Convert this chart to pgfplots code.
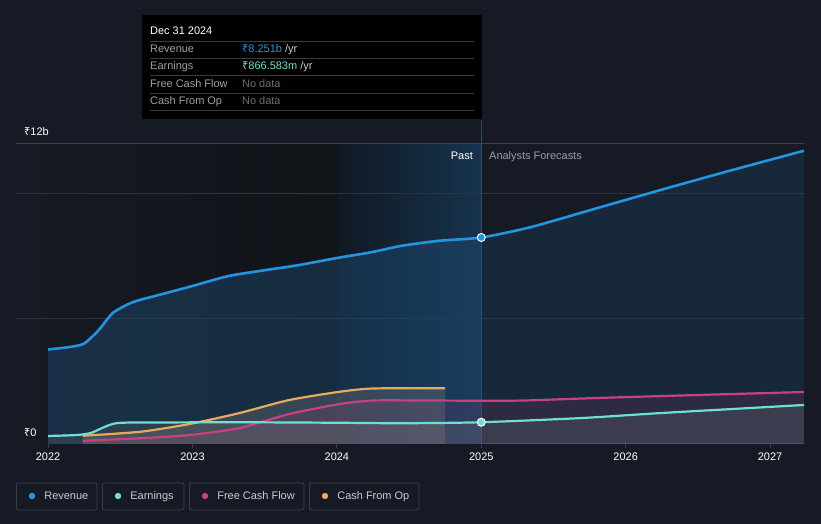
\documentclass[border=0pt]{standalone}
\usepackage{pgfplots}
\pgfplotsset{compat=1.18}
\usepackage{fontspec}
\setmainfont{Liberation Sans}
\newfontfamily\rupfont{Noto Sans}
\newcommand{\rs}{{\rupfont ₹}}

\definecolor{bg}{HTML}{151A24}
\definecolor{gridc}{HTML}{2E333D}
\definecolor{axisc}{HTML}{3A3F49}
\definecolor{revc}{HTML}{2394DF}
\definecolor{earnc}{HTML}{6EE0CF}
\definecolor{fcfc}{HTML}{C9417F}
\definecolor{cfoc}{HTML}{E8AA5A}
\definecolor{labc}{HTML}{9AA0A8}
\definecolor{dimc}{HTML}{6A6E76}
\definecolor{legc}{HTML}{C8CCD2}
\definecolor{leftr}{HTML}{111418}
\definecolor{pastl}{HTML}{101923}
\definecolor{pastr}{HTML}{17334E}
\definecolor{divc}{HTML}{2D4B69}
\definecolor{revfill}{HTML}{1E4B73}
\definecolor{sepc}{HTML}{3C3C3C}

\begin{document}
\begin{tikzpicture}[font=\fontsize{11}{13}\selectfont]
\begin{scope}[x=1bp,y=1bp]
\fill[bg] (0,0) rectangle (821,524);
\useasboundingbox (0,0) rectangle (821,524);
\end{scope}

\begin{axis}[
    at={(16bp,80bp)}, anchor=south west,
    scale only axis, width=788bp, height=300bp,
    xmin=2021.778, xmax=2027.235, ymin=0, ymax=12,
    clip=false,
    axis x line=bottom, axis y line=none,
    x axis line style={draw=axisc, line width=1bp, -},
    xtick={2022,2023,2024,2025,2026,2027},
    xticklabels={2022,2023,2024,2025,2026,2027},
    tick align=outside, major tick length=4bp,
    tick style={draw=axisc, line width=0.8bp},
    xticklabel style={text=white, font=\fontsize{11}{13}\selectfont, yshift=-1bp},
    /pgf/number format/assume math mode=true,
    ytick=\empty,
]
% background regions
\shade[left color=bg, right color=leftr, draw=none] (axis cs:2021.778,0) rectangle (axis cs:2024,12);
\shade[left color=pastl, right color=pastr, draw=none] (axis cs:2024,0) rectangle (axis cs:2025,12);

% grid lines
\draw[gridc, line width=1bp] (axis cs:2021.778,5) -- (axis cs:2027.235,5);
\draw[gridc, line width=1bp] (axis cs:2021.778,10) -- (axis cs:2027.235,10);
\draw[axisc, line width=1bp] (axis cs:2021.778,12) -- (axis cs:2027.235,12);

% divider
\draw[divc, line width=0.8bp] (axis cs:2025,0) -- (axis cs:2025,12.96);

% revenue fills
\addplot[draw=none, fill=revfill, fill opacity=0.45, smooth, tension=0.4] coordinates {
 (2022,3.78) (2022.15,3.88) (2022.25,4.02) (2022.35,4.55) (2022.45,5.25) (2022.59,5.68) (2022.78,5.98) (2023,6.32) (2023.25,6.72) (2023.5,6.95) (2023.74,7.16) (2024,7.44) (2024.23,7.66) (2024.45,7.93) (2024.71,8.13) (2025,8.26)
} \closedcycle;
\addplot[draw=none, fill=revfill, fill opacity=0.3, smooth, tension=0.4] coordinates {
 (2025,8.26) (2025.34,8.67) (2025.8,9.43) (2026.26,10.19) (2026.72,10.93) (2027.235,11.73)
} \closedcycle;

% small series fills
\addplot[draw=none, fill=gray, fill opacity=0.3, smooth, tension=0.4] coordinates {
 (2022.24,0.33) (2022.64,0.49) (2022.98,0.8) (2023.32,1.23) (2023.67,1.76) (2024.02,2.09) (2024.25,2.22) (2024.75,2.23)
} \closedcycle;
\addplot[draw=none, fill=fcfc, fill opacity=0.12, smooth, tension=0.4] coordinates {
 (2022.24,0.13) (2022.64,0.23) (2022.98,0.36) (2023.32,0.63) (2023.67,1.2) (2024.02,1.6) (2024.25,1.74) (2024.6,1.74) (2025,1.73) (2025.3,1.74) (2025.8,1.84) (2026.5,1.96) (2027.235,2.08)
} \closedcycle;
\addplot[draw=none, fill=gray, fill opacity=0.2, smooth, tension=0.4] coordinates {
 (2022,0.32) (2022.2,0.36) (2022.3,0.45) (2022.47,0.83) (2022.8,0.86) (2023.3,0.87) (2024,0.85) (2024.45,0.83) (2025,0.87) (2025.7,1.04) (2026.25,1.24) (2027.235,1.56)
} \closedcycle;

% lines
\addplot[cfoc, line width=2.2bp, smooth, tension=0.4] coordinates {
 (2022.24,0.33) (2022.64,0.49) (2022.98,0.8) (2023.32,1.23) (2023.67,1.76) (2024.02,2.09) (2024.25,2.22) (2024.75,2.23)
};
\addplot[fcfc, line width=2.2bp, smooth, tension=0.4] coordinates {
 (2022.24,0.13) (2022.64,0.23) (2022.98,0.36) (2023.32,0.63) (2023.67,1.2) (2024.02,1.6) (2024.25,1.74) (2024.6,1.74) (2025,1.73) (2025.3,1.74) (2025.8,1.84) (2026.5,1.96) (2027.235,2.08)
};
\addplot[earnc, line width=2.2bp, smooth, tension=0.4] coordinates {
 (2022,0.32) (2022.2,0.36) (2022.3,0.45) (2022.47,0.83) (2022.8,0.86) (2023.3,0.87) (2024,0.85) (2024.45,0.83) (2025,0.87) (2025.7,1.04) (2026.25,1.24) (2027.235,1.56)
};
\addplot[revc, line width=2.6bp, smooth, tension=0.4] coordinates {
 (2022,3.78) (2022.15,3.88) (2022.25,4.02) (2022.35,4.55) (2022.45,5.25) (2022.59,5.68) (2022.78,5.98) (2023,6.32) (2023.25,6.72) (2023.5,6.95) (2023.74,7.16) (2024,7.44) (2024.23,7.66) (2024.45,7.93) (2024.71,8.13) (2025,8.26) (2025.34,8.67) (2025.8,9.43) (2026.26,10.19) (2026.72,10.93) (2027.235,11.73)
};

% hover markers
\addplot[only marks, mark=*, mark size=4bp, mark options={fill=revc, draw=white, line width=1bp}] coordinates {(2025,8.26)};
\addplot[only marks, mark=*, mark size=4bp, mark options={fill=earnc, draw=white, line width=1bp}] coordinates {(2025,0.87)};
\end{axis}

\begin{scope}[x=1bp,y=1bp]
% y labels
\node[anchor=base west, text=white, inner sep=0] at (24,388) {\rs12b};
\node[anchor=base west, text=white, inner sep=0] at (24,87) {\rs0};

% past / forecast labels
\node[anchor=base east, text=white, inner sep=0] at (473,364) {Past};
\node[anchor=base west, text=labc, inner sep=0] at (489,364) {Analysts Forecasts};

% tooltip
\fill[black] (142,509) rectangle (482,405);
\foreach \yy in {483,466,449,431,414} {
  \draw[sepc, line width=0.8bp] (150,\yy) -- (474,\yy);
}
\node[anchor=base west, text=white, inner sep=0] at (150,489) {Dec 31 2024};
\node[anchor=base west, text=labc, inner sep=0] at (150,471) {Revenue};
\node[anchor=base west, text=labc, inner sep=0] at (150,454) {Earnings};
\node[anchor=base west, text=labc, inner sep=0] at (150,436) {Free Cash Flow};
\node[anchor=base west, text=labc, inner sep=0] at (150,419) {Cash From Op};
\node[anchor=base west, inner sep=0] at (242,471) {\textcolor{revc}{\rs8.251b} \textcolor{legc}{/yr}};
\node[anchor=base west, inner sep=0] at (242,454) {\textcolor{earnc}{\rs866.583m} \textcolor{legc}{/yr}};
\node[anchor=base west, text=dimc, inner sep=0] at (242,436) {No data};
\node[anchor=base west, text=dimc, inner sep=0] at (242,419) {No data};

% legend
\begin{scope}[line width=0.8bp]
\draw[axisc, rounded corners=2bp] (16.5,41) rectangle (97,14);
\fill[revc] (32,28) circle (3.2bp);
\node[anchor=base west, text=legc, inner sep=0] at (44,24) {Revenue};
\draw[axisc, rounded corners=2bp] (102.5,41) rectangle (184,14);
\fill[earnc] (118,28) circle (3.2bp);
\node[anchor=base west, text=legc, inner sep=0] at (130,24) {Earnings};
\draw[axisc, rounded corners=2bp] (189.5,41) rectangle (304,14);
\fill[fcfc] (205,28) circle (3.2bp);
\node[anchor=base west, text=legc, inner sep=0] at (217,24) {Free Cash Flow};
\draw[axisc, rounded corners=2bp] (309.5,41) rectangle (419,14);
\fill[cfoc] (325,28) circle (3.2bp);
\node[anchor=base west, text=legc, inner sep=0] at (337,24) {Cash From Op};
\end{scope}
\end{scope}
\end{tikzpicture}
\end{document}
